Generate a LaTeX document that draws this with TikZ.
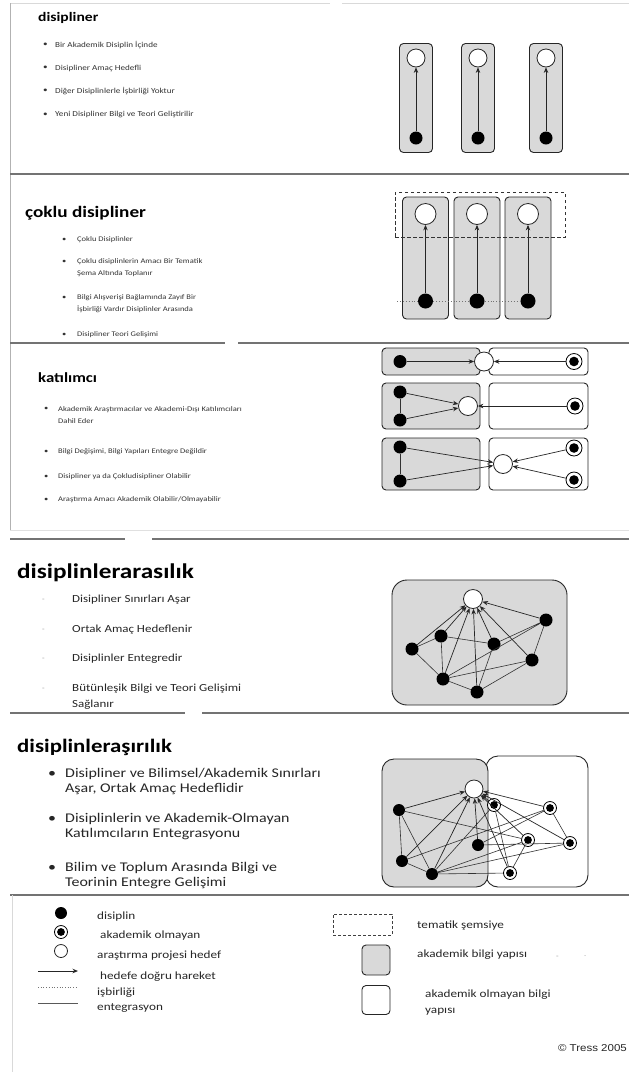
\documentclass[tikz,border=0pt]{standalone}
\usepackage{fontspec}
\setmainfont{Carlito}[FakeStretch=1.2]
\newfontfamily\arialf{Liberation Sans}[FakeStretch=1.15]
\usetikzlibrary{arrows.meta}
\begin{document}
\begin{tikzpicture}[x=1pt,y=-1pt,
  sep/.style={draw=black!55, line width=1.1pt},
  frame/.style={draw=black!30, line width=0.8pt},
  acad/.style={draw=black!85, fill=black!15, rounded corners=4pt, line width=0.9pt, inner sep=0pt},
  nonacad/.style={draw=black!85, fill=white, rounded corners=4pt, line width=0.9pt, inner sep=0pt},
  disc/.style={circle, fill=black, inner sep=0pt, minimum size=#1},
  goal/.style={circle, draw=black!85, fill=white, line width=0.8pt, inner sep=0pt, minimum size=#1},
  nonac/.style={circle, draw=black, fill=white, line width=0.8pt, inner sep=0pt, minimum size=#1,
     path picture={\fill[black] (path picture bounding box.center) circle[radius=0.3*#1];}},
  mv/.style={-{Stealth[length=5.5pt,width=4.5pt]}, line width=0.7pt, draw=black!85},
  integ/.style={line width=0.6pt, draw=black!80},
  coop/.style={dotted, line width=0.9pt, draw=black!55},
  ttl/.style={anchor=west, inner sep=0pt, text=black},
  bul/.style={anchor=west, inner sep=0pt, text=black!80, align=left, font=\fontsize{7.6}{12}\selectfont},
  bulb/.style={anchor=west, inner sep=0pt, text=black!80, align=left, font=\fontsize{7.1}{12}\selectfont},
  bul4/.style={anchor=west, inner sep=0pt, text=black!85, font=\fontsize{10.8}{12}\selectfont},
  bul5/.style={anchor=west, inner sep=0pt, text=black!85, align=left, font=\fontsize{13.3}{15}\selectfont},
  leg/.style={anchor=west, inner sep=0pt, text=black!85, align=left, font=\fontsize{11}{16}\selectfont},
]
\useasboundingbox[fill=white] (0,0) rectangle (629,1072);

% ---------- frame lines ----------
\draw[frame, draw=black!15] (10,3) -- (330,3);
\draw[frame, draw=black!15] (342,3) -- (629,3);
\draw[frame] (10,3) -- (10,530);
\draw[sep] (10,174) -- (629,174);
\draw[sep] (10,343) -- (225,343);
\draw[sep] (238,343) -- (629,343);
\draw[frame, draw=black!12] (10,530) -- (629,530);
\draw[sep] (10,539) -- (125,539);
\draw[sep] (152,539) -- (629,539);
\draw[sep] (10,713) -- (185,713);
\draw[sep] (202,713) -- (629,713);
\draw[sep] (10,895) -- (629,895);
\draw[frame, draw=black!15] (12,895) -- (12,1072);

% ---------- section 1: disipliner ----------
\node[ttl, font=\fontsize{13}{15}\selectfont\bfseries] (t1) at (38,18) {disipliner};
\node[bul] (s1d1) at (43,45) {•};
\node[bul] (s1b1) at (55,45) {Bir Akademik Disiplin İçinde};
\node[bul] (s1d2) at (43,68) {•};
\node[bul] (s1b2) at (55,68) {Disipliner Amaç Hedefli};
\node[bul] (s1d3) at (43,91) {•};
\node[bul] (s1b3) at (55,91) {Diğer Disiplinlerle İşbirliği Yoktur};
\node[bul] (s1d4) at (43,115) {•};
\node[bul] (s1b4) at (55,115) {Yeni Disipliner Bilgi ve Teori Geliştirilir};
\foreach \i/\x in {1/416,2/478,3/546} {
  \node[acad, minimum width=33pt, minimum height=109pt] (s1box\i) at (\x,98) {};
  \node[goal=18pt] (s1g\i) at (\x,58) {};
  \node[disc=13pt] (s1f\i) at (\x,138) {};
  \draw[mv] (s1f\i) -- (s1g\i);
}

% ---------- section 2: coklu disipliner ----------
\node[ttl, font=\fontsize{16}{18}\selectfont\bfseries] (t2) at (25,213) {çoklu disipliner};
\node[bulb] (s2d1) at (62,240) {•};
\node[bulb] (s2b1) at (77,240) {Çoklu Disiplinler};
\node[bulb] (s2d2) at (62,262) {•};
\node[bulb] (s2b2) at (77,268) {Çoklu disiplinlerin Amacı Bir Tematik\\Şema Altında Toplanır};
\node[bulb] (s2d3) at (62,298) {•};
\node[bulb] (s2b3) at (77,304) {Bilgi Alışverişi Bağlamında Zayıf Bir\\İşbirliği Vardır Disiplinler Arasında};
\node[bulb] (s2d4) at (62,335) {•};
\node[bulb] (s2b4) at (77,335) {Disipliner Teori Gelişimi};
\foreach \i/\x in {1/425.5,2/477,3/528} {
  \node[acad, minimum width=46pt, minimum height=122pt] (s2box\i) at (\x,258) {};
}
\coordinate (s2c0) at (397,301);
\foreach \i/\x in {1/425.5,2/477,3/528} {
  \node[goal=21pt] (s2g\i) at (\x,214) {};
  \node[disc=15pt] (s2f\i) at (\x,301) {};
  \draw[mv] (s2f\i) -- (s2g\i);
}
\draw[coop] (s2c0) -- (s2f1) (s2f1) -- (s2f2) (s2f2) -- (s2f3);
\node[draw=black!80, dash pattern=on 3.5pt off 2.5pt, line width=1pt, minimum width=170pt, minimum height=45pt, inner sep=0pt] (s2umb) at (480,214.5) {};

% ---------- section 3: katilimci ----------
\node[ttl, font=\fontsize{14}{16}\selectfont\bfseries] (t3) at (38,378) {katılımcı};
\node[bulb] (s3d1) at (44,409) {•};
\node[bulb] (s3b1) at (58,415) {Akademik Araştırmacılar ve Akademi-Dışı Katılımcıları\\Dahil Eder};
\node[bulb] (s3d2) at (44,452) {•};
\node[bulb] (s3b2) at (58,452) {Bilgi Değişimi, Bilgi Yapıları Entegre Değildir};
\node[bulb] (s3d3) at (44,477) {•};
\node[bulb] (s3b3) at (58,477) {Disipliner ya da Çokludisipliner Olabilir};
\node[bulb] (s3d4) at (44,500) {•};
\node[bulb] (s3b4) at (58,500) {Araştırma Amacı Akademik Olabilir/Olmayabilir};
% row 1
\node[acad, minimum width=98pt, minimum height=27pt] (r1a) at (431,361.5) {};
\node[nonacad, minimum width=99pt, minimum height=27pt] (r1n) at (538.5,361.5) {};
\node[goal=19pt] (r1g) at (484,361.5) {};
\node[disc=13pt] (r1f) at (400,361.5) {};
\node[nonac=16pt] (r1r) at (574,361.5) {};
\draw[mv] (r1f) -- (r1g);
\draw[mv] (r1r) -- (r1g);
% row 2
\node[acad, minimum width=98pt, minimum height=46pt] (r2a) at (431,406) {};
\node[nonacad, minimum width=99pt, minimum height=46pt] (r2n) at (538.5,406) {};
\node[goal=19pt] (r2g) at (468,406) {};
\node[disc=13pt] (r2f1) at (400,392) {};
\node[disc=13pt] (r2f2) at (400,420) {};
\node[nonac=16pt] (r2r) at (575,406) {};
\draw[integ] (r2f1) -- (r2f2);
\draw[mv] (r2f1) -- (r2g);
\draw[mv] (r2f2) -- (r2g);
\draw[mv] (r2r) -- (r2g);
% row 3
\node[acad, minimum width=98pt, minimum height=52pt] (r3a) at (431,464) {};
\node[nonacad, minimum width=99pt, minimum height=52pt] (r3n) at (538.5,464) {};
\node[goal=19pt] (r3g) at (503,464) {};
\node[disc=13pt] (r3f1) at (400,447) {};
\node[disc=13pt] (r3f2) at (400,481) {};
\node[nonac=16pt] (r3r1) at (574,448) {};
\node[nonac=16pt] (r3r2) at (574,480) {};
\draw[integ] (r3f1) -- (r3f2);
\draw[mv] (r3f1) -- (r3g);
\draw[mv] (r3f2) -- (r3g);
\draw[mv] (r3r1) -- (r3g);
\draw[mv] (r3r2) -- (r3g);

% ---------- section 4: disiplinlerarasilik ----------
\node[ttl, font=\fontsize{21}{23}\selectfont\bfseries] (t4) at (17,573) {disiplinlerarasılık};
\foreach \i/\y in {1/600,2/630,3/659,4/689} {
  \node[anchor=west, inner sep=0pt, text=black!40, font=\fontsize{7}{8}\selectfont] (s4d\i) at (42,\y) {-};
}
\node[bul4] (s4b1) at (72,600) {Disipliner Sınırları Aşar};
\node[bul4] (s4b2) at (72,630) {Ortak Amaç Hedeflenir};
\node[bul4] (s4b3) at (72,659) {Disiplinler Entegredir};
\node[bul4] (s4b4) at (72,689) {Bütünleşik Bilgi ve Teori Gelişimi};
\node[bul4] (s4b5) at (72,705) {Sağlanır};
\node[acad, rounded corners=15pt, minimum width=175pt, minimum height=125pt] (s4box) at (479.5,642.5) {};
\node[goal=19pt] (s4O) at (473,599) {};
\node[disc=13pt] (s4A) at (412,649) {};
\node[disc=13pt] (s4B) at (441,636) {};
\node[disc=13pt] (s4C) at (494,644) {};
\node[disc=13pt] (s4D) at (546,620) {};
\node[disc=13pt] (s4E) at (532,660) {};
\node[disc=13pt] (s4F) at (443,679) {};
\node[disc=13pt] (s4G) at (477,692) {};
\draw[integ] (s4A) -- (s4B) (s4A) -- (s4F) (s4B) -- (s4C) (s4B) -- (s4F)
  (s4C) -- (s4D) (s4F) -- (s4D) (s4F) -- (s4E) (s4F) -- (s4G)
  (s4G) -- (s4E) (s4G) -- (s4C) (s4D) -- (s4E);
\foreach \n in {A,B,F,G,C,E,D} { \draw[mv] (s4\n) -- (s4O); }

% ---------- section 5: disiplinlerasirilik ----------
\node[ttl, font=\fontsize{19}{21}\selectfont\bfseries] (t5) at (17,747) {disiplinleraşırılık};
\node[bul5] (s5d1) at (48,774) {•};
\node[bul5] (s5b1) at (65,781.5) {Disipliner ve Bilimsel/Akademik Sınırları\\Aşar, Ortak Amaç Hedeflidir};
\node[bul5] (s5d2) at (48,819) {•};
\node[bul5] (s5b2) at (65,826.5) {Disiplinlerin ve Akademik-Olmayan\\Katılımcıların Entegrasyonu};
\node[bul5] (s5d3) at (48,868) {•};
\node[bul5] (s5b3) at (65,875.5) {Bilim ve Toplum Arasında Bilgi ve\\Teorinin Entegre Gelişimi};
\node[nonacad, rounded corners=12pt, minimum width=102pt, minimum height=131pt] (s5n) at (537,821.5) {};
\node[acad, rounded corners=12pt, minimum width=106pt, minimum height=128pt] (s5a) at (435,823) {};
\node[goal=18pt] (s5O) at (474,789) {};
\node[disc=12pt] (s5A) at (399,810) {};
\node[disc=12pt] (s5B) at (402,861) {};
\node[disc=12pt] (s5C) at (432,874) {};
\node[disc=12pt] (s5D) at (478,845) {};
\node[nonac=13pt] (s5E) at (494,805) {};
\node[nonac=13pt] (s5F) at (550,808) {};
\node[nonac=13pt] (s5G) at (528,840) {};
\node[nonac=13pt] (s5H) at (570,843) {};
\node[nonac=13pt] (s5I) at (510,873) {};
\draw[integ] (s5A) -- (s5B) (s5A) -- (s5C) (s5B) -- (s5C) (s5A) -- (s5G)
  (s5B) -- (s5F) (s5C) -- (s5G) (s5C) -- (s5H) (s5C) -- (s5E) (s5C) -- (s5I)
  (s5D) -- (s5H) (s5D) -- (s5F) (s5E) -- (s5I) (s5F) -- (s5H) (s5G) -- (s5I);
\foreach \n in {A,B,C,D,E,F,G,H,I} { \draw[mv] (s5\n) -- (s5O); }

% ---------- legend ----------
\node[disc=12pt] (lg1) at (61,913) {};
\node[leg] (lt1) at (97,917) {disiplin};
\node[nonac=13pt] (lg2) at (61,932) {};
\node[leg] (lt2) at (100,936) {akademik olmayan};
\node[goal=13pt] (lg3) at (61,951) {};
\node[leg] (lt3) at (97,956) {araştırma projesi hedef};
\coordinate (la1) at (38,971);
\coordinate (la2) at (78,971);
\draw[mv, line width=0.9pt] (la1) -- (la2);
\node[leg] (lt4) at (100,977) {hedefe doğru hareket};
\coordinate (lc1) at (38,987);
\coordinate (lc2) at (78,987);
\draw[coop, line width=0.7pt] (lc1) -- (lc2);
\node[leg] (lt5) at (97,993) {işbirliği};
\coordinate (li1) at (38,1003);
\coordinate (li2) at (78,1003);
\draw[integ, draw=black!65, line width=0.8pt] (li1) -- (li2);
\node[leg] (lt6) at (97,1008) {entegrasyon};
\node[draw=black!75, dash pattern=on 3pt off 2pt, line width=0.8pt, minimum width=59pt, minimum height=21pt, inner sep=0pt] (lg7) at (362.5,924.5) {};
\node[leg] (lt7) at (417,926) {tematik şemsiye};
\node[acad, minimum width=28pt, minimum height=30pt] (lg8) at (376,960) {};
\node[leg] (lt8) at (417,955) {akademik bilgi yapısı};
\node[anchor=west, inner sep=0pt, text=black!40, font=\fontsize{7}{8}\selectfont] (lt8b) at (556,957) {-};
\node[anchor=west, inner sep=0pt, text=black!40, font=\fontsize{7}{8}\selectfont] (lt8c) at (584,956) {.};
\node[nonacad, minimum width=28pt, minimum height=29pt] (lg9) at (376,1000) {};
\node[leg] (lt9) at (425,1003) {akademik olmayan bilgi\\yapısı};
\node[anchor=east, inner sep=0pt, font=\arialf\fontsize{10}{12}\selectfont, text=black!85] (cr) at (627,1048) {© Tress 2005};
\end{tikzpicture}
\end{document}
